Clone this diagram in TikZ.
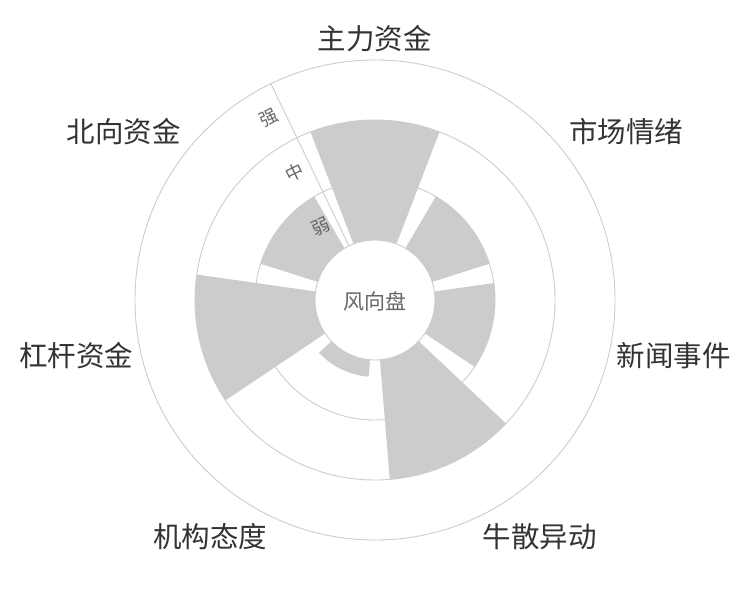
\documentclass[tikz,border=0pt]{standalone}
\usepackage{fontspec}
\newfontfamily\cjk{Noto Sans CJK SC}
\usepackage{tikz}
\usetikzlibrary{calc}
\definecolor{barfill}{HTML}{CCCCCC}
\definecolor{ringline}{HTML}{CCCCCC}
\definecolor{labeltext}{HTML}{333333}
\definecolor{axistext}{HTML}{666666}

\begin{document}
\begin{tikzpicture}
    [
    x=1pt,y=1pt,
    ring/.style={draw=ringline,line width=0.9pt},
    windbar/.style={fill=barfill},
    category/.style={font=\cjk\fontsize{28.5}{28.5}\selectfont,text=labeltext,inner sep=0pt},
    level/.style={font=\cjk\fontsize{18}{18}\selectfont,text=axistext,inner sep=0pt,rotate=25.71},
    ]
    \useasboundingbox (-375,-300) rectangle (375,300);

    \draw [ring] (0,0) circle [radius=60];
    \draw [ring] (0,0) circle [radius=120];
    \draw [ring] (0,0) circle [radius=180];
    \draw [ring] (0,0) circle [radius=240];

    \fill [windbar] (69:60) -- (69:180) arc [start angle=69, end angle=111, radius=180] -- (111:60) arc [start angle=111, end angle=69, radius=60] -- cycle;
    \fill [windbar] (17.57:60) -- (17.57:120) arc [start angle=17.57, end angle=59.57, radius=120] -- (59.57:60) arc [start angle=59.57, end angle=17.57, radius=60] -- cycle;
    \fill [windbar] (-33.86:60) -- (-33.86:120) arc [start angle=-33.86, end angle=8.14, radius=120] -- (8.14:60) arc [start angle=8.14, end angle=-33.86, radius=60] -- cycle;
    \fill [windbar] (-85.29:60) -- (-85.29:180) arc [start angle=-85.29, end angle=-43.29, radius=180] -- (-43.29:60) arc [start angle=-43.29, end angle=-85.29, radius=60] -- cycle;
    \fill [windbar] (-136.71:60) -- (-136.71:77) arc [start angle=-136.71, end angle=-94.71, radius=77] -- (-94.71:60) arc [start angle=-94.71, end angle=-136.71, radius=60] -- cycle;
    \fill [windbar] (171.86:60) -- (171.86:180) arc [start angle=171.86, end angle=213.86, radius=180] -- (213.86:60) arc [start angle=213.86, end angle=171.86, radius=60] -- cycle;
    \fill [windbar] (120.43:60) -- (120.43:120) arc [start angle=120.43, end angle=162.43, radius=120] -- (162.43:60) arc [start angle=162.43, end angle=120.43, radius=60] -- cycle;

    \coordinate (ax0) at (115.71:60);
    \coordinate (ax1) at (115.71:240);
    \draw [ring] (ax0) -- (ax1);

    \node (weak) [level] at ($(115.71:90)+(205.71:17)$) {弱};
    \node (mid) [level] at ($(115.71:150)+(205.71:17)$) {中};
    \node (strong) [level] at ($(115.71:210)+(205.71:17)$) {强};

    \node (hub) [font=\cjk\fontsize{21}{21}\selectfont,text=axistext] at (0,-1) {风向盘};

    \node (zl) [category,anchor=south] at (90:248) {主力资金};
    \node (sc) [category,anchor=south west] at (38.57:248) {市场情绪};
    \node (xw) [category,anchor=west] at (-12.86:248) {新闻事件};
    \node (ns) [category,anchor=north west] at (-64.29:248) {牛散异动};
    \node (jg) [category,anchor=north east] at (-115.71:248) {机构态度};
    \node (gg) [category,anchor=east] at (192.86:248) {杠杆资金};
    \node (bx) [category,anchor=south east] at (141.43:248) {北向资金};
  \end{tikzpicture}
\end{document}
